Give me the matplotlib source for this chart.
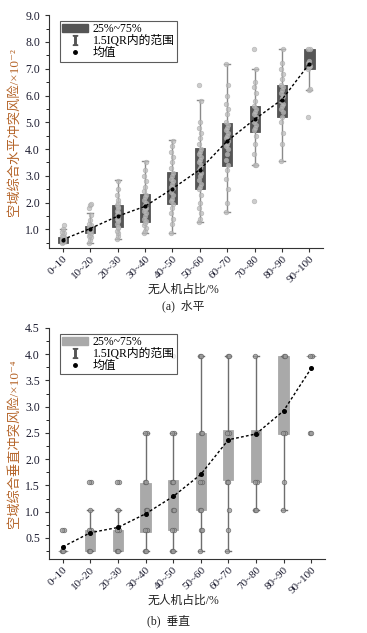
import numpy as np
import matplotlib
matplotlib.use('Agg')
import matplotlib.pyplot as plt
from matplotlib.patches import Patch
from matplotlib.lines import Line2D
from matplotlib.ticker import MultipleLocator, FormatStrFormatter

plt.rcParams['font.family'] = ['Liberation Serif', 'Noto Sans CJK SC', 'DejaVu Sans']
plt.rcParams['mathtext.fontset'] = 'stix'

categories = ['0~10', '10~20', '20~30', '30~40', '40~50',
              '50~60', '60~70', '70~80', '80~90', '90~100']

# (a) horizontal risk, x10^-2
h_q1 = [0.49, 0.88, 1.09, 1.27, 1.95, 2.51, 3.37, 4.63, 5.21, 6.98]
h_med = [0.60, 1.00, 1.50, 1.80, 2.55, 3.25, 4.20, 5.10, 5.80, 7.30]
h_q3 = [0.71, 1.14, 1.91, 2.31, 3.13, 4.04, 4.99, 5.62, 6.41, 7.75]
h_lo = [0.50, 0.50, 0.65, 0.88, 0.88, 1.26, 1.64, 3.39, 3.57, 6.20]
h_hi = [1.00, 1.60, 2.83, 3.54, 4.33, 5.82, 7.18, 7.00, 7.75, 7.75]
h_mean = [0.62, 1.03, 1.49, 1.86, 2.52, 3.23, 4.30, 5.11, 5.85, 7.19]
h_points = [
    [0.5, 0.52, 0.55, 0.57, 0.58, 0.6, 0.6, 0.62, 0.63, 0.65, 0.68, 0.7, 0.75, 0.8, 0.85, 0.9, 1.0, 1.15],
    [0.5, 0.6, 0.7, 0.75, 0.8, 0.85, 0.9, 0.95, 0.98, 1.0, 1.02, 1.05, 1.08, 1.1, 1.15, 1.2, 1.35, 1.55, 1.8, 1.9, 1.95],
    [0.65, 0.75, 0.85, 0.95, 1.05, 1.1, 1.2, 1.3, 1.35, 1.4, 1.45, 1.5, 1.55, 1.6, 1.65, 1.7, 1.8, 1.85, 1.9, 2.0, 2.1, 2.3, 2.5, 2.8],
    [0.88, 0.95, 1.05, 1.15, 1.25, 1.3, 1.4, 1.5, 1.6, 1.7, 1.75, 1.8, 1.85, 1.9, 2.0, 2.1, 2.2, 2.3, 2.45, 2.6, 2.8, 3.0, 3.2, 3.5],
    [0.88, 1.2, 1.4, 1.6, 1.8, 1.95, 2.05, 2.15, 2.3, 2.4, 2.5, 2.55, 2.6, 2.7, 2.8, 2.9, 3.0, 3.1, 3.3, 3.5, 3.7, 3.9, 4.1, 4.3],
    [1.26, 1.4, 1.6, 1.8, 2.0, 2.3, 2.5, 2.6, 2.7, 2.85, 3.0, 3.1, 3.2, 3.3, 3.4, 3.5, 3.6, 3.7, 3.8, 3.9, 4.0, 4.2, 4.4, 4.6, 4.8, 5.0, 5.8, 6.4],
    [1.64, 2.0, 2.5, 2.9, 3.2, 3.4, 3.6, 3.8, 4.0, 4.1, 4.2, 4.3, 4.4, 4.5, 4.6, 4.7, 4.8, 4.9, 5.0, 5.3, 5.5, 5.7, 6.0, 6.4, 7.18],
    [2.06, 3.39, 3.4, 3.8, 4.2, 4.5, 4.7, 4.8, 4.9, 5.0, 5.1, 5.2, 5.3, 5.4, 5.5, 5.6, 5.8, 6.1, 6.3, 6.5, 7.0, 7.75],
    [3.57, 4.2, 4.6, 5.0, 5.2, 5.4, 5.5, 5.6, 5.7, 5.8, 5.9, 6.0, 6.1, 6.2, 6.3, 6.4, 6.6, 6.8, 7.0, 7.2, 7.75],
    [5.18, 6.2, 6.25, 7.0, 7.05, 7.1, 7.2, 7.3, 7.75, 7.75],
]

# (b) vertical risk, x10^-4
v_q1 = [0.26, 0.26, 0.26, 0.62, 0.65, 1.03, 1.60, 1.57, 2.48, 3.97]
v_med = [0.26, 0.45, 0.45, 1.00, 1.10, 1.60, 2.10, 2.10, 3.20, 3.97]
v_q3 = [0.26, 0.65, 0.65, 1.55, 1.60, 2.50, 2.56, 2.56, 3.97, 3.97]
v_lo = [0.26, 0.26, 0.26, 0.26, 0.26, 0.26, 0.26, 1.03, 1.03, 3.97]
v_hi = [0.26, 1.03, 1.03, 2.50, 2.50, 3.97, 3.97, 3.97, 3.97, 3.97]
v_mean = [0.33, 0.60, 0.70, 0.96, 1.29, 1.71, 2.37, 2.48, 2.92, 3.73]
v_points = [
    [0.26, 0.26, 0.65, 0.65],
    [0.26, 0.26, 0.65, 0.65, 1.03, 1.57, 1.57],
    [0.26, 0.26, 0.65, 0.65, 1.03, 1.57, 1.57],
    [0.26, 0.26, 0.65, 0.65, 1.03, 1.03, 1.57, 1.57, 2.5, 2.5],
    [0.26, 0.26, 0.65, 0.65, 1.03, 1.03, 1.57, 1.57, 2.5, 2.5, 3.97],
    [0.26, 0.65, 0.65, 1.03, 1.03, 1.57, 1.57, 2.5, 2.5, 3.97, 3.97],
    [0.26, 0.65, 1.03, 1.57, 1.57, 2.5, 2.5, 3.97, 3.97],
    [1.03, 1.03, 1.57, 1.57, 2.5, 2.5, 3.97],
    [1.03, 1.57, 2.5, 2.5, 3.97, 3.97],
    [2.5, 2.5, 3.97, 3.97],
]


def draw_panel(ax, q1, med, q3, lo, hi, mean, points, box_color, pt_face, pt_edge,
               whisk_color, mean_size):
    x = np.arange(len(categories))
    stats = []
    for i in range(len(categories)):
        stats.append({'q1': q1[i], 'med': med[i], 'q3': q3[i],
                      'whislo': lo[i], 'whishi': hi[i], 'fliers': []})
    ax.bxp(stats, positions=x, widths=0.37, patch_artist=True, showfliers=False,
           boxprops=dict(facecolor=box_color, edgecolor=box_color, linewidth=0.6),
           medianprops=dict(color=box_color, linewidth=0),
           whiskerprops=dict(color=whisk_color, linewidth=1.0),
           capprops=dict(color=whisk_color, linewidth=1.0), capwidths=0.22)
    for i, vals in enumerate(points):
        off = np.array([((k % 3) - 1) * 0.035 for k in range(len(vals))])
        ax.scatter(x[i] + off, vals, s=11, facecolor=pt_face, edgecolor=pt_edge,
                   linewidth=0.5, alpha=0.75, zorder=3)
    ax.plot(x, mean, linestyle=(0, (2, 1.6)), color='black', linewidth=1.0,
            marker='o', markersize=mean_size, zorder=4)
    ax.set_xlim(-0.5, 9.5)
    ax.set_xticks(x)
    ax.set_xticklabels(categories, rotation=45, ha='right', rotation_mode='anchor',
                       fontsize=8)
    for s in ['top', 'right']:
        ax.spines[s].set_visible(False)
    for s in ['left', 'bottom']:
        ax.spines[s].set_linewidth(0.8)
        ax.spines[s].set_color('#333333')
    ax.tick_params(axis='both', direction='out', length=3, width=0.8,
                   colors='#333333', labelcolor='#1c1c30', labelsize=8.5)
    ax.tick_params(axis='x', pad=1.5, labelsize=8)
    ax.tick_params(axis='y', which='minor', direction='out', length=2, width=0.6)


fig = plt.figure(figsize=(3.67, 6.33), dpi=100)
ax1 = fig.add_axes([0.1335, 0.608, 0.747, 0.368])
ax2 = fig.add_axes([0.1335, 0.117, 0.752, 0.365])

draw_panel(ax1, h_q1, h_med, h_q3, h_lo, h_hi, h_mean, h_points,
           '#555555', '#bdbdbd', '#aaaaaa', '#8a8a8a', 2.0)
ax1.set_ylim(0.3, 9.0)
ax1.yaxis.set_major_locator(MultipleLocator(1.0))
ax1.yaxis.set_minor_locator(MultipleLocator(0.5))
ax1.yaxis.set_major_formatter(FormatStrFormatter('%.1f'))
ax1.set_ylabel('空域综合水平冲突风险/×10⁻²', color='#b5652a', fontsize=9.5, labelpad=3)

draw_panel(ax2, v_q1, v_med, v_q3, v_lo, v_hi, v_mean, v_points,
           '#a9a9a9', '#9a9a9a', '#555555', '#6e6e6e', 2.6)
ax2.set_ylim(0.1, 4.5)
ax2.yaxis.set_major_locator(MultipleLocator(0.5))
ax2.yaxis.set_minor_locator(MultipleLocator(0.25))
ax2.yaxis.set_major_formatter(FormatStrFormatter('%.1f'))
ax2.set_ylabel('空域综合垂直冲突风险/×10⁻⁴', color='#b5652a', fontsize=9.5, labelpad=3)

for ax, bc in [(ax1, '#555555'), (ax2, '#a9a9a9')]:
    handles = [Patch(facecolor=bc, edgecolor=bc),
               Line2D([], [], marker='$\\mathrm{I}$', color='#555555', linestyle='none', markersize=7),
               Line2D([], [], marker='o', color='black', linestyle='none', markersize=2.5)]
    leg = ax.legend(handles, ['25%~75%', '1.5IQR内的范围', '均值'], loc='upper left',
                    bbox_to_anchor=(0.03, 0.985), fontsize=8.5, frameon=True, fancybox=False,
                    handlelength=2.2, handletextpad=0.4, labelspacing=0.0, borderpad=0.2,
                    borderaxespad=0.2)
    leg.get_frame().set_edgecolor('#333333')
    leg.get_frame().set_linewidth(0.8)

fig.text(0.5, 0.543, '无人机占比/%', ha='center', va='center', fontsize=8.5, color='#222222')
fig.text(0.5, 0.517, '(a)  水平', ha='center', va='center', fontsize=8.5, color='#222222')
fig.text(0.5, 0.051, '无人机占比/%', ha='center', va='center', fontsize=8.5, color='#222222')
fig.text(0.46, 0.017, '(b)  垂直', ha='center', va='center', fontsize=8.5, color='#222222')

fig.savefig('out.png', dpi=100)
